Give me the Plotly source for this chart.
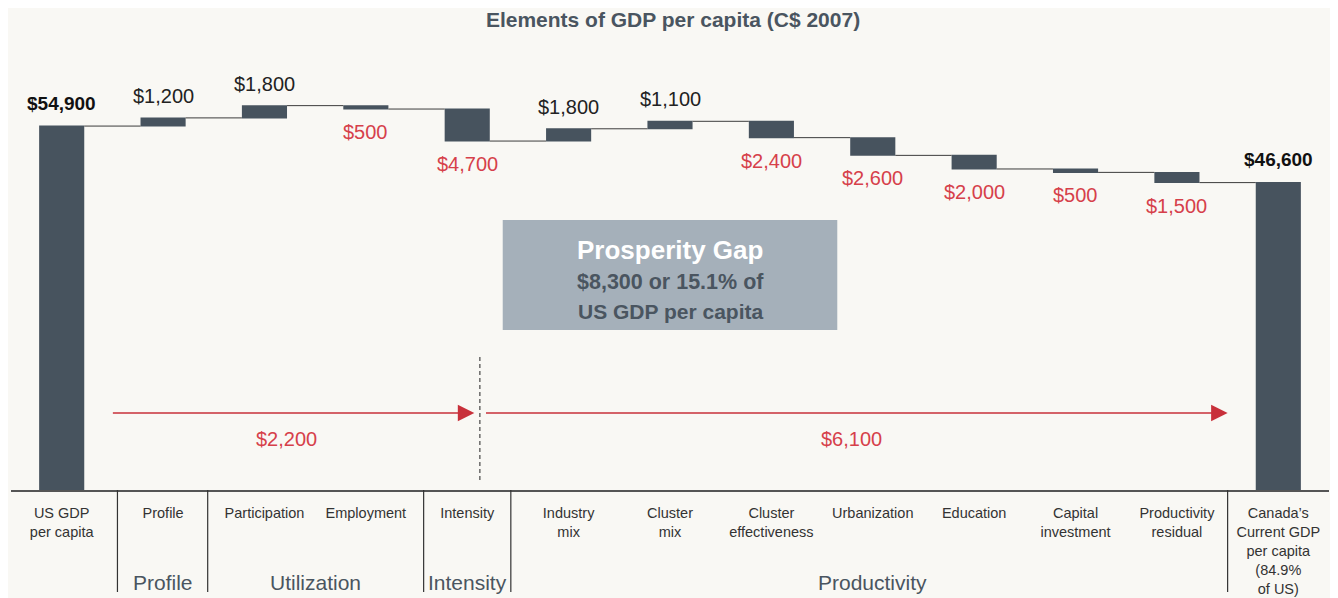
import plotly.graph_objects as go

# data
categories = ["US GDP<br>per capita", "Profile", "Participation", "Employment", "Intensity",
              "Industry<br>mix", "Cluster<br>mix", "Cluster<br>effectiveness", "Urbanization",
              "Education", "Capital<br>investment", "Productivity<br>residual",
              "Canada’s<br>Current GDP<br>per capita<br>(84.9%<br>of US)"]
measures = ["absolute"] + ["relative"] * 11 + ["total"]
values = [54900, 1200, 1800, -500, -4700, 1800, 1100, -2400, -2600, -2000, -500, -1500, 46600]
group_names = ["Profile", "Utilization", "Intensity", "Productivity"]
group_members = [(1, 1), (2, 3), (4, 4), (5, 11)]

BAR = "#47535E"
RED = "#D6404A"
SLATE = "#4A5560"
BG = "#F9F8F4"
FONT = "Liberation Sans, Arial, sans-serif"

# page has an 8px body margin, so the figure is drawn 8px smaller
W, H = 1330, 590
PH = 430  # plot area height in px

x = list(range(len(categories)))

fig = go.Figure(go.Waterfall(
    x=x, y=values, measure=measures, width=0.445,
    increasing=dict(marker=dict(color=BAR)),
    decreasing=dict(marker=dict(color=BAR)),
    totals=dict(marker=dict(color=BAR)),
    connector=dict(line=dict(color="#3c3c3c", width=1)),
    textinfo="none", hoverinfo="x+y",
))

# value labels
annots = []
cum = 0
for i, (m, v) in enumerate(zip(measures, values)):
    if m == "absolute":
        cum = v
        annots.append(dict(x=i, y=cum, text="<b>$%s</b>" % format(v, ","), yshift=23,
                           font=dict(size=19, color="#111111")))
    elif m == "total":
        annots.append(dict(x=i, y=cum, text="<b>$%s</b>" % format(cum, ","), yshift=23,
                           font=dict(size=19, color="#111111")))
    else:
        cum += v
        if v > 0:
            annots.append(dict(x=i, y=cum, text="$%s" % format(v, ","), yshift=22,
                               font=dict(size=20, color="#222222")))
        else:
            annots.append(dict(x=i, y=cum, text="$%s" % format(-v, ","), yshift=-23,
                               font=dict(size=20, color=RED)))
for a in annots:
    a.update(xref="x", yref="y", showarrow=False, yanchor="middle")
    fig.add_annotation(**a)

# group labels
for name, (a, b) in zip(group_names, group_members):
    fig.add_annotation(x=(a + b) / 2, y=-92 / PH, xref="x", yref="paper", text=name,
                       showarrow=False, yanchor="middle",
                       font=dict(size=21, color=SLATE))

# separators under the axis
for sx in [0.55, 1.44, 3.57, 4.43, 11.5]:
    fig.add_shape(type="line", xref="x", yref="paper", x0=sx, x1=sx, y0=0, y1=-102 / PH,
                  line=dict(color="#333333", width=1.2))

# gap figures
us = values[0]
canada = sum(values[:-1])
gap = us - canada
pre_prod = -sum(values[1:5])
prod = -sum(values[5:12])

# dashed divider + arrows
fig.add_shape(type="line", xref="x", yref="paper", x0=4.125, x1=4.125,
              y0=10 / PH, y1=136 / PH,
              line=dict(color="#222222", width=1, dash="4px,3px"))
ay = 77 / PH
for x0, x1 in [(0.49, 4.07), (4.17, 11.5)]:
    fig.add_annotation(x=x1, y=ay, ax=x0, ay=0, xref="x", yref="paper", axref="x", ayref="pixel",
                       text="", showarrow=True, arrowhead=2, arrowsize=2.2, arrowwidth=1.5,
                       arrowcolor="#C8303A")
ly = 51 / PH
fig.add_annotation(x=2.22, y=ly, xref="x", yref="paper", text="$%s" % format(pre_prod, ","),
                   showarrow=False, yanchor="middle", font=dict(size=20, color=RED))
fig.add_annotation(x=7.79, y=ly, xref="x", yref="paper", text="$%s" % format(prod, ","),
                   showarrow=False, yanchor="middle", font=dict(size=20, color=RED))

# prosperity gap box
fig.add_shape(type="rect", xref="x", yref="paper", x0=4.35, x1=7.65,
              y0=160 / PH, y1=270 / PH,
              fillcolor="#A5B0BA", line=dict(width=0), layer="below")
fig.add_annotation(x=6.0, y=240 / PH, xref="x", yref="paper", text="<b>Prosperity Gap</b>",
                   showarrow=False, yanchor="middle", font=dict(size=26, color="white"))
fig.add_annotation(x=6.0, y=208 / PH, xref="x", yref="paper",
                   text="<b>$%s or %.1f%% of</b>" % (format(gap, ","), gap / us * 100),
                   showarrow=False, yanchor="middle", font=dict(size=21.5, color=SLATE))
fig.add_annotation(x=6.0, y=179 / PH, xref="x", yref="paper",
                   text="<b>US GDP per capita</b>",
                   showarrow=False, yanchor="middle", font=dict(size=21, color=SLATE))

fig.update_layout(
    width=W, height=H,
    margin=dict(l=3, r=9, t=52, b=H - 52 - PH),
    paper_bgcolor=BG, plot_bgcolor=BG,
    font=dict(family=FONT, color="#333333"),
    showlegend=False,
    title=dict(text="<b>Elements of GDP per capita (C$ 2007)</b>", x=0.5, xanchor="center",
               y=1 - 12 / H, yanchor="middle", font=dict(size=21, color=SLATE)),
    xaxis=dict(range=[-0.5, 12.5], tickvals=x, ticktext=categories, showgrid=False,
               zeroline=False, showline=True, linecolor="#555555", linewidth=1.5,
               ticks="outside", ticklen=9, tickcolor="rgba(0,0,0,0)", automargin=False,
               tickfont=dict(size=14.5, color="#333333")),
    yaxis=dict(range=[1470, 64600], visible=False, showgrid=False, zeroline=False,
               automargin=False),
)

fig.write_html("out.html")
